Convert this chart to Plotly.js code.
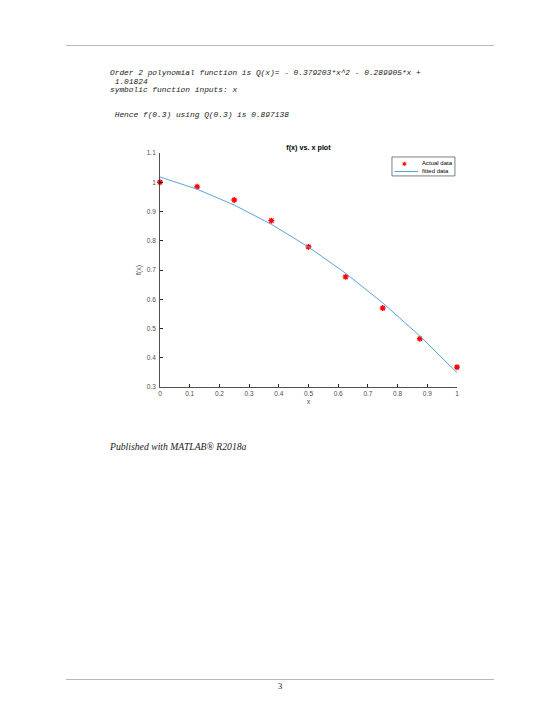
<!DOCTYPE html>
<html>
<head>
<meta charset="utf-8">
<script src="https://cdn.plot.ly/plotly-3.0.1.min.js"></script>
<style>
  html, body { margin:0; padding:0; background:#fff; }
  #page { position:relative; width:560px; height:725px; overflow:hidden; }
  #chart { position:absolute; left:0; top:0; width:560px; height:725px; }
  .rule { position:absolute; left:66px; width:428px; height:1px; background:#b8b8b8; z-index:2; }
  .mono { position:absolute; left:110px; font-family:"Liberation Mono","Courier New",monospace; font-style:italic; font-size:7.85px; color:#222; white-space:pre; z-index:2; line-height:8.6px; }
  .pub { position:absolute; left:110px; top:441px; font-family:"Liberation Serif","Times New Roman",serif; font-style:italic; font-size:9.7px; color:#222; z-index:2; }
  .pnum { position:absolute; left:278px; top:681px; font-family:"Liberation Serif","Times New Roman",serif; font-size:8.5px; color:#222; z-index:2; }
</style>
</head>
<body>
<div id="page">
  <div id="chart"></div>
  <div class="rule" style="top:45px"></div>
  <div class="mono" style="top:69px">Order 2 polynomial function is Q(x)= - 0.379203*x^2 - 0.289905*x +
 1.01824
symbolic function inputs: x</div>
  <div class="mono" style="top:111px"> Hence f(0.3) using Q(0.3) is 0.897138</div>
  <div class="pub">Published with MATLAB® R2018a</div>
  <div class="rule" style="top:679px"></div>
  <div class="pnum">3</div>
</div>
<script>
// Data
var xData = [0, 0.125, 0.25, 0.375, 0.5, 0.625, 0.75, 0.875, 1];
var yActual = [1.0, 0.9845, 0.9394, 0.8688, 0.7788, 0.6766, 0.5698, 0.4650, 0.3679];
var yFitted = [1.0182, 0.9761, 0.9221, 0.8562, 0.7785, 0.6889, 0.5875, 0.4743, 0.3491];
var xTicks = [0, 0.1, 0.2, 0.3, 0.4, 0.5, 0.6, 0.7, 0.8, 0.9, 1];
var xTickText = ["0","0.1","0.2","0.3","0.4","0.5","0.6","0.7","0.8","0.9","1"];
var yTicks = [0.3, 0.4, 0.5, 0.6, 0.7, 0.8, 0.9, 1.0, 1.1];
var yTickText = ["0.3","0.4","0.5","0.6","0.7","0.8","0.9","1","1.1"];
var seriesNames = ["Actual data", "fitted data"];

var axCol = '#262626';
var redCol = '#ff0000';
var blueCol = '#5aa4da';
var traces = [
  { x: xData, y: yActual, mode: 'markers', name: seriesNames[0], type: 'scatter', showlegend: false,
    marker: { symbol: 'asterisk-open', size: 5, color: redCol, line: { color: redCol, width: 1.3 } },
    cliponaxis: false },
  { x: xData, y: yFitted, mode: 'lines', name: seriesNames[1], type: 'scatter', showlegend: false,
    line: { color: blueCol, width: 1 }, cliponaxis: false }
];

// compact MATLAB-style legend (decoration, in paper coordinates)
var lg = { x0: 0.781, x1: 0.993, y0: 0.902, y1: 0.983, r1: 0.957, r2: 0.921, sx: 0.822, lx0: 0.79, lx1: 0.869, tx: 0.875 };
var shapes = [
  { type: 'rect', xref: 'paper', yref: 'paper', x0: lg.x0, x1: lg.x1, y0: lg.y0, y1: lg.y1,
    line: { color: '#262626', width: 0.6 }, fillcolor: '#fff', layer: 'above' },
  { type: 'line', xref: 'paper', yref: 'paper', x0: lg.lx0, x1: lg.lx1, y0: lg.r2, y1: lg.r2,
    line: { color: blueCol, width: 1.1 }, layer: 'above' }
];
var annotations = [
  { xref: 'paper', yref: 'paper', x: lg.sx, y: lg.r1, text: '✱', showarrow: false,
    font: { size: 6, color: redCol, family: 'DejaVu Sans' }, xanchor: 'center', yanchor: 'middle' },
  { xref: 'paper', yref: 'paper', x: lg.tx, y: lg.r1, text: seriesNames[0], showarrow: false,
    font: { size: 6, color: '#000' }, xanchor: 'left', yanchor: 'middle' },
  { xref: 'paper', yref: 'paper', x: lg.tx, y: lg.r2, text: seriesNames[1], showarrow: false,
    font: { size: 6, color: '#000' }, xanchor: 'left', yanchor: 'middle' }
];

var layout = {
  width: 560, height: 725,
  margin: { l: 160, r: 103, t: 153, b: 338, pad: 0 },
  paper_bgcolor: 'rgba(0,0,0,0)', plot_bgcolor: 'rgba(0,0,0,0)',
  font: { family: 'Liberation Sans, Arial, sans-serif', size: 6.5, color: '#4d4d4d' },
  title: { text: '<b>f(x) vs. x plot</b>', font: { size: 7.2, color: '#000' },
           x: 0.5, xanchor: 'center', xref: 'paper', y: 1, yref: 'paper', yanchor: 'bottom', pad: { b: 3 } },
  showlegend: false,
  shapes: shapes,
  annotations: annotations,
  xaxis: { range: [0, 1], tickmode: 'array', tickvals: xTicks, ticktext: xTickText, ticks: 'inside', ticklen: 3,
           tickcolor: axCol, showline: true, linecolor: axCol, linewidth: 0.8, showgrid: false, zeroline: false,
           mirror: false, tickfont: { size: 6.5, color: '#4d4d4d' },
           title: { text: 'x', font: { size: 7, color: '#4d4d4d' }, standoff: 3 } },
  yaxis: { range: [0.3, 1.1], tickmode: 'array', tickvals: yTicks, ticktext: yTickText, ticks: 'inside', ticklen: 3,
           tickcolor: axCol, showline: true, linecolor: axCol, linewidth: 0.8, showgrid: false, zeroline: false,
           mirror: false, tickfont: { size: 6.5, color: '#4d4d4d' }, ticklabelstandoff: 2,
           title: { text: 'f(x)', font: { size: 7, color: '#4d4d4d' }, standoff: 4 } }
};
Plotly.newPlot('chart', traces, layout, { displayModeBar: false, staticPlot: true });
</script>
</body>
</html>
